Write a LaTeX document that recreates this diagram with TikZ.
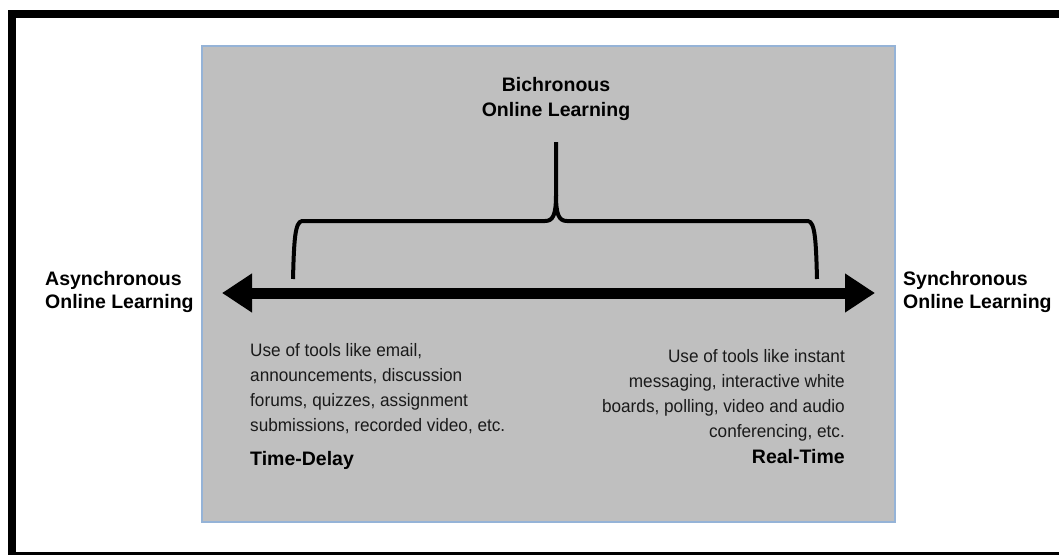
\documentclass[tikz,border=0pt]{standalone}
\usepackage{fontspec}
\setmainfont{Liberation Sans}
\newfontfamily\bodyfont{Liberation Sans}[FakeStretch=0.955]
\usetikzlibrary{arrows.meta}
\definecolor{panelgray}{HTML}{BFBFBF}
\definecolor{panelblue}{HTML}{95B3D7}
\definecolor{inkgray}{HTML}{1A1A1A}
\tikzset{
	endlabel/.style={font=\fontsize{19.5}{23.5}\selectfont\bfseries, align=left, inner sep=0},
	bodytext/.style={font=\bodyfont\fontsize{18}{25}\selectfont, text=inkgray, inner sep=0},
	modelabel/.style={font=\fontsize{19.5}{22}\selectfont\bfseries, inner sep=0}
}
\begin{document}
\begin{tikzpicture}[x=1pt,y=-1pt]
	\useasboundingbox (0,0) rectangle (1059,554);
	\draw[line width=8pt] (12,14) rectangle (1063,556);
	\draw[panelblue, fill=panelgray, line width=1.5pt] (202,46) rectangle (895,522);
	\foreach \nm/\px/\txt in {async/45/Asynchronous,sync/903/Synchronous}
	{
		\node[endlabel, anchor=north west] (\nm) at (\px,271) {\txt\\Online Learning};
	}
	\node[endlabel, align=center, font=\fontsize{19.5}{25.5}\selectfont\bfseries, anchor=north] (bichron) at (556,77) {Bichronous\\Online Learning};
	\coordinate (asyncend) at (222,293);
	\coordinate (syncend) at (875,293);
	\draw[line width=11pt, {Triangle[length=30pt,width=37pt]}-{Triangle[length=30pt,width=37pt]}] (asyncend) -- (syncend);
	\coordinate (bracetip) at (556,142);
	\draw[line width=4pt] (293,279) .. controls (294,240) and (295,222) .. (302,221) -- (545,221) .. controls (553,221) and (556,215) .. (556,195) -- (bracetip);
	\draw[line width=4pt] (817,279) .. controls (816,240) and (815,222) .. (808,221) -- (567,221) .. controls (559,221) and (556,215) .. (556,195);
	\node[bodytext, align=left, anchor=north west] (asynctools) at (250,343.1) {Use of tools like email,\\announcements, discussion\\forums, quizzes, assignment\\submissions, recorded video, etc.};
	\node[bodytext, align=right, anchor=north east] (synctools) at (845,349.1) {Use of tools like instant\\messaging, interactive white\\boards, polling, video and audio\\conferencing, etc.};
	\node[modelabel, anchor=base west] (timedelay) at (250,465) {Time-Delay};
	\node[modelabel, anchor=base east] (realtime) at (845,463) {Real-Time};
\end{tikzpicture}
\end{document}
